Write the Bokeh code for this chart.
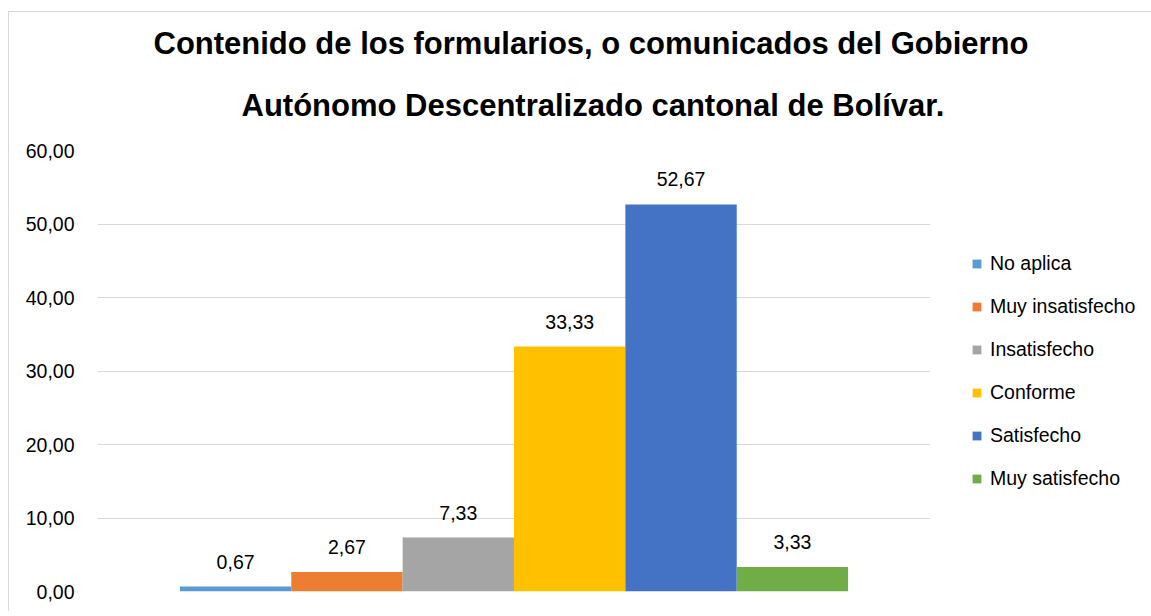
from bokeh.plotting import figure
from bokeh.models import (ColumnDataSource, FactorRange, Range1d, FixedTicker,
                          CustomJSTickFormatter, Title)
from bokeh.core.properties import value
from bokeh.embed import file_html
from bokeh.resources import INLINE

categories = ["No aplica", "Muy insatisfecho", "Insatisfecho", "Conforme",
              "Satisfecho", "Muy satisfecho"]
values = [0.67, 2.67, 7.33, 33.33, 52.67, 3.33]
colors = ["#5B9BD5", "#ED7D31", "#A5A5A5", "#FFC000", "#4472C4", "#70AD47"]
y_ticks = [0, 10, 20, 30, 40, 50, 60]
title_lines = ["Contenido de los formularios, o comunicados del Gobierno",
               "Autónomo Descentralizado cantonal de Bolívar."]

FONT = "Liberation Sans"

src = ColumnDataSource(dict(
    cat=categories, val=values, color=colors,
    lab=[f"{v:.2f}".replace(".", ",") for v in values],
))

p = figure(frame_width=833, frame_height=441, output_backend="svg",
           toolbar_location=None,
           x_range=FactorRange(factors=categories, range_padding=0.2467,
                               range_padding_units="percent"),
           y_range=Range1d(0, 60),
           min_border_left=88, min_border_right=220, min_border_top=138,
           min_border_bottom=20)
p.styles = {"border": "1px solid #d9d9d9", "border-bottom": "none",
            "margin-left": "8px", "margin-top": "11px"}

t1 = Title(text=title_lines[0], align="left", offset=56,
           text_font=FONT, text_font_size="31px", text_font_style="bold",
           text_color="#000000", standoff=-4)
t2 = Title(text=title_lines[1], align="left", offset=144,
           text_font=FONT, text_font_size="31px", text_font_style="bold",
           text_color="#000000", standoff=55)
p.title = t1
p.add_layout(t2, "above")

p.vbar(x="cat", top="val", width=1.0, bottom=0, color="color", source=src,
       line_color=None, legend_field="cat")

p.text(x="cat", y="val", text="lab", source=src, text_align="center",
       text_baseline="bottom", y_offset=-18, text_font=value(FONT),
       text_font_size="19.5px", text_color="#000000")

p.xaxis.visible = False
p.xgrid.grid_line_color = None
p.ygrid.grid_line_color = "#d9d9d9"
p.ygrid.grid_line_width = 1
p.yaxis.ticker = FixedTicker(ticks=y_ticks)
p.yaxis.formatter = CustomJSTickFormatter(code="return tick.toFixed(2).replace('.', ',');")
p.yaxis.axis_line_color = None
p.yaxis.major_tick_line_color = None
p.yaxis.minor_tick_line_color = None
p.yaxis.major_label_standoff = 17
p.yaxis.major_label_text_font = FONT
p.yaxis.major_label_text_font_size = "19.5px"
p.yaxis.major_label_text_color = "#000000"
p.outline_line_color = None

leg = p.legend[0]
if leg in p.center:
    p.center.remove(leg)
leg.location = "left"
leg.margin = 41
leg.padding = 10
leg.border_line_color = None
leg.background_fill_alpha = 0
leg.glyph_width = 11
leg.glyph_height = 11
leg.label_height = 20
leg.spacing = 20
leg.label_standoff = 8
leg.label_text_font = FONT
leg.label_text_font_size = "19.5px"
leg.label_text_color = "#000000"
p.add_layout(leg, "right")

open("out.html", "w").write(file_html(p, INLINE))
